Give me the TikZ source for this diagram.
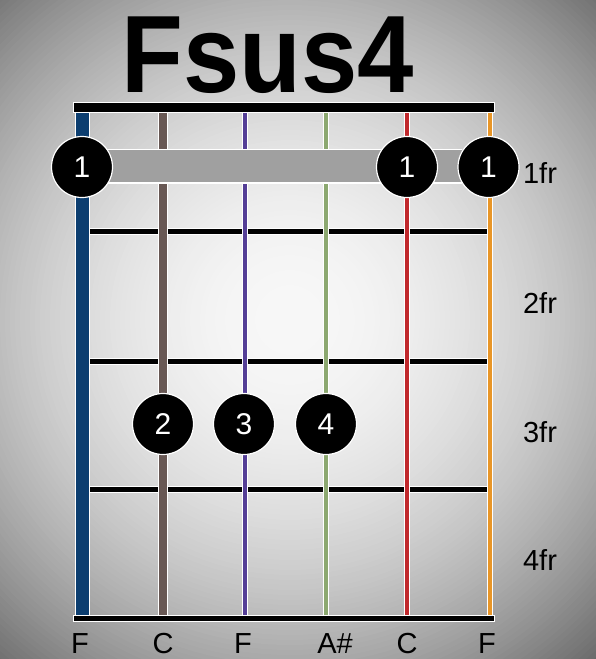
\documentclass[tikz,border=0pt]{standalone}
\usepackage{fontspec}
\setmainfont{Liberation Sans}
\definecolor{sblue}{RGB}{12,62,112}
\definecolor{sbrown}{RGB}{104,88,84}
\definecolor{spurple}{RGB}{84,62,150}
\definecolor{sgreen}{RGB}{140,168,112}
\definecolor{sred}{RGB}{192,40,44}
\definecolor{sorange}{RGB}{232,150,40}
\definecolor{barrec}{RGB}{160,160,160}
\tikzset{
  fingerdot/.style={circle, fill=black, draw=white, line width=1.2pt, minimum size=61pt, inner sep=0pt, text=white, font=\fontsize{30}{30}\selectfont},
  fretlabel/.style={anchor=base, inner sep=0pt, font=\fontsize{29}{29}\selectfont},
  notelabel/.style={anchor=base, inner sep=0pt, font=\fontsize{29}{29}\selectfont},
  title/.style={anchor=base, inner sep=0pt, font=\fontsize{110}{110}\selectfont\bfseries}
}
\begin{document}
\begin{tikzpicture}[x=1pt,y=-1pt]
\useasboundingbox (0,0) rectangle (596,659);
\begin{scope}
\clip (0,0) rectangle (596,659);
\foreach \r in {470,465,...,5}{
  \pgfmathsetmacro\p{max(30,97-52*(\r/445)^2)}
  \fill[white!\p!black] (290,320) circle (\r pt);
}
\end{scope}
% title
\node[title] (title) at (268,92) {\scalebox{0.92}[1]{Fsus4}};
% frets
\foreach \y in {231,361,489}{
  \draw[white, line width=7pt] (82,\y) -- (489,\y);
  \draw[black, line width=5pt] (82,\y) -- (489,\y);
}
% strings
\foreach \x/\c/\w/\o in {82/sblue/13/15, 163/sbrown/8/10, 244.5/spurple/4/6, 326/sgreen/4/6, 407/sred/4/6, 489.5/sorange/4/6}{
  \draw[white, line width=\o pt] (\x,108) -- (\x,615);
  \draw[\c, line width=\w pt] (\x,108) -- (\x,615);
}
% nut and bottom
\fill[black, draw=white, line width=1pt] (73,102) rectangle (494,112);
\fill[black, draw=white, line width=1pt] (73,615) rectangle (494,621);
% barre
\fill[white] (82,148.5) rectangle (462,183.5);
\fill[barrec] (82,150) rectangle (462,182);
% finger dots
\node[fingerdot] (d1a) at (82,167) {1};
\node[fingerdot] (d1b) at (407,167) {1};
\node[fingerdot] (d1c) at (488.5,167) {1};
\node[fingerdot] (d2) at (163,424) {2};
\node[fingerdot] (d3) at (244,424) {3};
\node[fingerdot] (d4) at (326,424) {4};
% fret labels
\node[fretlabel] (fr1) at (540,183) {1fr};
\node[fretlabel] (fr2) at (540,313) {2fr};
\node[fretlabel] (fr3) at (540,442) {3fr};
\node[fretlabel] (fr4) at (540,570) {4fr};
% note labels
\node[notelabel] (n1) at (80,653) {F};
\node[notelabel] (n2) at (163,653) {C};
\node[notelabel] (n3) at (243,653) {F};
\node[notelabel] (n4) at (335,653) {A\#};
\node[notelabel] (n5) at (407,653) {C};
\node[notelabel] (n6) at (487,653) {F};
\end{tikzpicture}
\end{document}
